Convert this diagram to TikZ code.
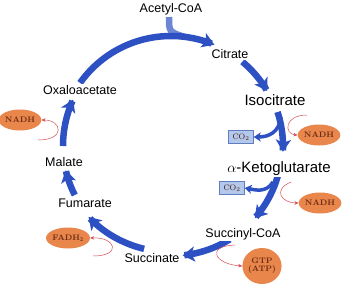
\documentclass[tikz,border=0pt]{standalone}
\usepackage{fontspec}
\usepackage{xcolor}
\usepackage{tikz}
\usetikzlibrary{arrows.meta,shapes.geometric}
\newfontfamily\labelfont{Liberation Sans}
\definecolor{cycblue}{RGB}{45,80,195}
\definecolor{ovalfill}{RGB}{232,134,76}
\definecolor{ovaltext}{RGB}{110,45,20}
\definecolor{boxfill}{RGB}{180,200,236}
\definecolor{boxline}{RGB}{95,125,195}
\definecolor{sidered}{RGB}{215,75,85}

\tikzset{
  metab/.style={font=\labelfont\fontsize{12.5}{14}\selectfont, fill=white, inner sep=1pt},
  bigmetab/.style={metab, font=\labelfont\fontsize{15}{17}\selectfont},
  carrier/.style={ellipse, fill=ovalfill, minimum width=39pt, minimum height=21pt, inner sep=0pt,
    font=\bfseries\fontsize{8}{9}\selectfont, text=ovaltext},
  gasbox/.style={draw=boxline, fill=boxfill, minimum width=25pt, minimum height=13pt, inner sep=0pt,
    font=\fontsize{8}{9}\selectfont, text=ovaltext!60!black},
  cyc/.style={draw=cycblue, line width=6.5pt, -{Stealth[length=12pt,width=15pt,inset=3pt]}},
  branch/.style={draw=cycblue, line width=3.5pt, -{Stealth[length=7pt,width=9pt,inset=2pt]}},
  side/.style={draw=sidered, line width=0.5pt, -{Stealth[length=4pt,width=3.5pt]}}
}

\begin{document}
\begin{tikzpicture}[x=1pt,y=-1pt]
  \useasboundingbox (0,0) rectangle (344,292);

  % the cycle
  \draw[cycblue!70, line width=6.5pt] (169,17) .. controls (169,32) .. (185,37);
  \draw[cyc] plot[domain=215:293, samples=50] ({171+111*cos(\x)}, {146+110*sin(\x)});
  \draw[cyc] plot[domain=310:330, samples=30] ({171+111*cos(\x)}, {146+110*sin(\x)});
  \draw[cyc] plot[domain=342:363, samples=30] ({171+112*cos(\x)}, {146+110*sin(\x)});
  \draw[cyc] plot[domain=15:41, samples=30] ({171+111*cos(\x)}, {146+110*sin(\x)});
  \draw[cyc] plot[domain=58:84, samples=30] ({171+111*cos(\x)}, {146+110*sin(\x)});
  \draw[cyc] plot[domain=104:138, samples=30] ({171+111*cos(\x)}, {146+106*sin(\x)});
  \draw[cyc] plot[domain=153:167, samples=30] ({171+108*cos(\x)}, {146+108*sin(\x)});
  \draw[cyc] plot[domain=180:205, samples=30] ({171+108*cos(\x)}, {146+110*sin(\x)});

  % metabolites
  \node[metab] (acetyl) at (171,9) {Acetyl-CoA};
  \node[metab] (citrate) at (230,54) {Citrate};
  \node[bigmetab] (isocit) at (275,100) {Isocitrate};
  \node[bigmetab] (akg) at (279,169) {$\alpha$-Ketoglutarate};
  \node[metab] (succoa) at (243,234) {Succinyl-CoA};
  \node[metab] (succ) at (152,258) {Succinate};
  \node[metab] (fum) at (85,203) {Fumarate};
  \node[metab] (mal) at (64,162) {Malate};
  \node[metab] (oxa) at (80,90) {Oxaloacetate};

  % by-products
  \node[carrier] (nadhL) at (20,120) {NADH};
  \node[carrier] (nadhA) at (319,135) {NADH};
  \node[carrier] (nadhB) at (320,203) {NADH};
  \node[carrier] (fadh) at (68,238) {FADH$_\mathbf{2}$};
  \node[carrier, minimum width=37pt, minimum height=36pt] (gtp) at (262,266)
    {\begin{tabular}{@{}c@{}}GTP\\[-1pt](ATP)\end{tabular}};
  \node[gasbox] (co2A) at (241,137) {CO$_2$};
  \node[gasbox] (co2B) at (232,188) {CO$_2$};

  % CO2 branches
  \coordinate (outA) at (281,117);
  \coordinate (outB) at (273,182);
  \draw[branch] (outA) .. controls (279,133) and (268,137) .. (co2A.east);
  \draw[branch] (outB) .. controls (266,193) and (256,190) .. (co2B.east);

  % side reactions
  \coordinate (tailL) at (38,140);
  \coordinate (tailA) at (307,115);
  \coordinate (tailB) at (291,182);
  \coordinate (tailF) at (93,256);
  \coordinate (tailG) at (235,245);
  \draw[side] (tailL) .. controls (66,140) and (62,120) .. (nadhL.east);
  \draw[side] (tailA) .. controls (284,115) and (284,134) .. (nadhA.west);
  \draw[side] (tailB) .. controls (272,190) and (282,203) .. (nadhB.west);
  \draw[side] (tailF) .. controls (122,256) and (116,237) .. (fadh.east);
  \draw[side] (tailG) .. controls (206,246) and (214,264) .. (gtp.west);
\end{tikzpicture}
\end{document}
